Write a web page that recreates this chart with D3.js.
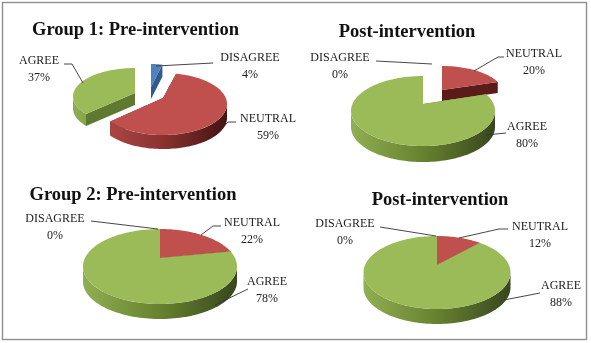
<!DOCTYPE html>
<html>
<head>
<meta charset="utf-8">
<script src="https://cdnjs.cloudflare.com/ajax/libs/d3/7.8.5/d3.min.js"></script>
<style>
html,body{margin:0;padding:0;background:#fff}
svg{display:block;filter:blur(0.4px)}
text{font-family:"Liberation Serif","Times New Roman",serif;fill:#222}
</style>
</head>
<body>
<svg id="c" width="591" height="343"></svg>
<script>
// ---------- data ----------
const categories = ["DISAGREE", "NEUTRAL", "AGREE"];
const titles = ["Group 1: Pre-intervention", "Post-intervention", "Group 2: Pre-intervention", "Post-intervention"];
const group1Pre  = [4, 59, 37];
const group1Post = [0, 20, 80];
const group2Pre  = [0, 22, 78];
const group2Post = [0, 12, 88];
const seriesValues = [group1Pre, group1Post, group2Pre, group2Post];

// ---------- styles ----------
const topColors  = {DISAGREE:"#4f81bd", NEUTRAL:"#c0504d", AGREE:"#9bbb59"};
const cutColors  = {DISAGREE:"#2f5a8f", NEUTRAL:"#5a1b19", AGREE:"#5f7a30"};
const wallStops  = {
  DISAGREE:["#4f81bd","#2f5a8f"],
  NEUTRAL:["#b04a47","#8a3230","#431412"],
  AGREE:["#90ae52","#66822f","#38461f"]
};

// ---------- layout: one projected frame per slice (x,y = apex) ----------
const frames = [
  {DISAGREE:{x:151,y:87,rx:52,back:23,front:30,depth:12},
   NEUTRAL:{x:163,y:98,rx:64,back:25,front:37,depth:14},
   AGREE:{x:135,y:93,rx:62,back:25,front:32,depth:12}},
  {NEUTRAL:{x:442,y:90,rx:61,back:24,front:30,depth:11},
   AGREE:{x:423,y:104,rx:72,back:28,front:42,depth:16}},
  {NEUTRAL:{x:160,y:258,rx:77,back:29,front:46,depth:15},
   AGREE:{x:160,y:258,rx:77,back:29,front:46,depth:15}},
  {NEUTRAL:{x:437,y:265,rx:73.5,back:29,front:44,depth:15},
   AGREE:{x:437,y:265,rx:73.5,back:29,front:44,depth:15}}
];
const titleAnchors = [[135.5,35],[407,37],[133,200],[440,205]];
const titleSize = 18.5, labelSize = 12, lineGap = 16.5;
const labelAnchors = [
  {DISAGREE:[250,61],NEUTRAL:[268,122],AGREE:[39,64]},
  {DISAGREE:[340,61],NEUTRAL:[534,57],AGREE:[527,130]},
  {DISAGREE:[55,222],NEUTRAL:[252,226],AGREE:[267,285]},
  {DISAGREE:[345,227],NEUTRAL:[540,230],AGREE:[561,289]}
];
const leaders = [
  {DISAGREE:[[213,63],[156,66]],NEUTRAL:[[236,122],[228,122],[218,133]],AGREE:[[64,64],[72,64],[83,83]]},
  {DISAGREE:[[376,61],[432,64]],NEUTRAL:[[504,57],[498,57],[474,71]],AGREE:[[506,133],[486,135]]},
  {DISAGREE:[[91,221],[158,229]],NEUTRAL:[[221,226],[213,226],[201,235]],AGREE:[[248,289],[215,305]]},
  {DISAGREE:[[380,227],[436,236]],NEUTRAL:[[508,229],[499,229],[459,238]],AGREE:[[540,293],[504,300]]}
];

// ---------- drawing ----------
const svg = d3.select("#c");
svg.append("rect").attr("width",591).attr("height",343).attr("fill","#fff");
svg.append("rect").attr("x",2.5).attr("y",2.5).attr("width",584).attr("height",337)
  .attr("fill","none").attr("stroke","#8f8f8f").attr("stroke-width",1.4);
const defs = svg.append("defs");

const pie = d3.pie().sort(null).value(d => d.value);
const line = d3.line().x(d => d[0]).y(d => d[1]);

// perspective projection of a flat disc onto the page
function tilt(f) { return (f.front - f.back) / (f.front + f.back); }
function project(f, a, drop) {
  const k = tilt(f), u = Math.sin(a), v = -Math.cos(a), w = 1 - k * v;
  const sx = f.rx * Math.sqrt(1 - k * k), sy = f.back * (1 + k);
  return [f.x + sx * u / w, f.y + sy * v / w + (drop || 0)];
}
function arcAngles(a0, a1) {
  const n = Math.max(2, Math.ceil((a1 - a0) / 0.03));
  const s = d3.scaleLinear().domain([0, n]).range([a0, a1]);
  return d3.range(n + 1).map(s);
}

seriesValues.forEach((values, ci) => {
  const rows = categories.map((name, i) => ({name, value: values[i]}));
  const g = svg.append("g");
  const arcs = pie(rows).filter(d => d.value > 0)
    .sort((a, b) => frames[ci][a.data.name].y - frames[ci][b.data.name].y
                 || (a.data.name === "AGREE" ? 1 : -1));

  arcs.forEach((d, si) => {
    const name = d.data.name, f = frames[ci][name];
    const sg = g.append("g");
    // radial cut walls
    [d.startAngle, d.endAngle].forEach(a => {
      const p = project(f, a), q = project(f, a, f.depth);
      sg.append("path").attr("fill", cutColors[name])
        .attr("d", line([[f.x, f.y], p, q, [f.x, f.y + f.depth]]) + "Z");
    });
    // outer curved wall: only the part of the rim that faces the viewer
    const edge = Math.acos(-tilt(f));
    const lo = Math.max(d.startAngle, edge), hi = Math.min(d.endAngle, 2 * Math.PI - edge);
    if (hi > lo) {
      const id = `w${ci}-${si}`;
      const stops = wallStops[name];
      const gr = defs.append("linearGradient").attr("id", id)
        .attr("gradientUnits", "userSpaceOnUse")
        .attr("x1", f.x - f.rx).attr("x2", f.x + f.rx).attr("y1", 0).attr("y2", 0);
      stops.forEach((c, i) => gr.append("stop")
        .attr("offset", i / (stops.length - 1)).attr("stop-color", c));
      const as = arcAngles(lo, hi);
      const pts = as.map(a => project(f, a)).concat(as.slice().reverse().map(a => project(f, a, f.depth)));
      sg.append("path").attr("fill", `url(#${id})`).attr("d", line(pts) + "Z");
    }
    // top surface
    const top = [[f.x, f.y]].concat(arcAngles(d.startAngle, d.endAngle).map(a => project(f, a)));
    sg.append("path").attr("fill", topColors[name]).attr("d", line(top) + "Z");
  });

  // leaders
  categories.forEach(name => {
    g.append("path").attr("fill","none").attr("stroke","#333").attr("stroke-width",0.9)
      .attr("d", line(leaders[ci][name]));
  });
  // labels
  rows.forEach(r => {
    const [x, y] = labelAnchors[ci][r.name];
    g.append("text").attr("x", x).attr("y", y).attr("text-anchor","middle")
      .attr("font-size", labelSize).text(r.name);
    g.append("text").attr("x", x).attr("y", y + lineGap).attr("text-anchor","middle")
      .attr("font-size", labelSize).text(r.value + "%");
  });
  // title
  g.append("text").attr("x", titleAnchors[ci][0]).attr("y", titleAnchors[ci][1])
    .attr("text-anchor","middle").attr("font-size", titleSize).attr("font-weight","bold")
    .style("fill","#111").text(titles[ci]);
});
</script>
</body>
</html>
